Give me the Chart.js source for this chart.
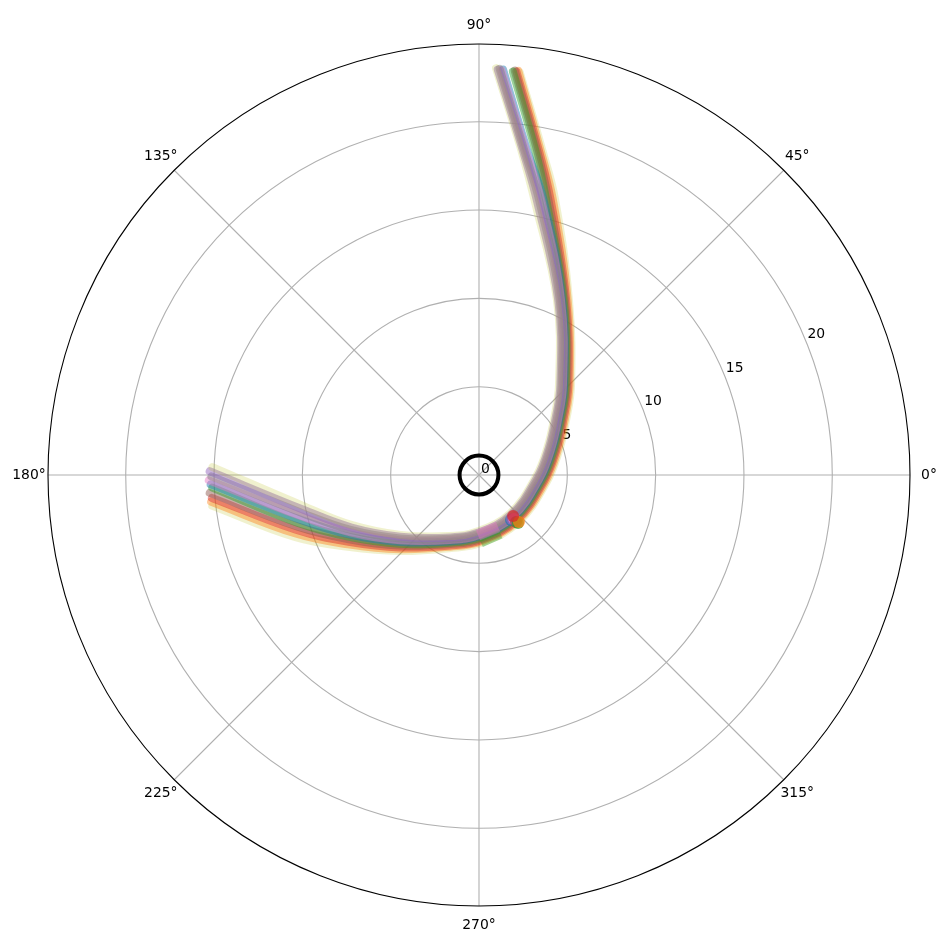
<!DOCTYPE html>
<html><head><meta charset="utf-8">
<script src="https://cdn.jsdelivr.net/npm/chart.js@4/dist/chart.umd.min.js"></script>
<style>html,body{margin:0;padding:0;background:#fff;}canvas{display:block;}</style>
</head><body>
<canvas id="c" width="950" height="950"></canvas>
<script>
// ---- axis data ----
const R_MAX = 24.4;
const radialTicks = [0, 5, 10, 15, 20];
const angleTicks = [0, 45, 90, 135, 180, 225, 270, 315];
const angleLabels = ['0°', '45°', '90°', '135°', '180°', '225°', '270°', '315°'];
const radialLabelAngle = 22.5;
const bodyRadius = [1.1];

// ---- trajectories (theta in degrees, r) ----
const traj0Theta = [178.3, 190.4, 201.6, 217.4, 244.2, 268.9, 308.7, 358.0, 21.4, 36.8, 48.4, 65.9, 78.4, 82.6, 87.6];
const traj0R     = [15.10, 9.99, 7.72, 5.59, 3.84, 3.19, 2.80, 3.22, 4.15, 5.31, 6.82, 10.82, 15.78, 18.56, 23.05];
const traj1Theta = [179.2, 191.3, 202.4, 218.1, 244.7, 269.3, 308.8, 357.5, 20.8, 36.2, 47.9, 65.6, 78.0, 82.35, 87.35];
const traj1R     = [15.25, 10.10, 7.80, 5.66, 3.91, 3.26, 2.88, 3.29, 4.21, 5.36, 6.87, 10.86, 15.83, 18.57, 22.98];
const traj2Theta = [180.3, 192.2, 203.2, 218.8, 245.2, 269.7, 308.9, 356.9, 20.2, 35.7, 47.5, 65.2, 77.6, 82.1, 87.1];
const traj2R     = [15.15, 10.22, 7.89, 5.73, 3.97, 3.33, 2.95, 3.36, 4.27, 5.42, 6.92, 10.90, 15.89, 18.58, 23.02];
const traj3Theta = [181.1, 193.1, 204.0, 219.5, 245.7, 270.1, 309.0, 356.4, 19.7, 35.1, 47.0, 64.9, 77.2, 81.85, 86.85];
const traj3R     = [15.30, 10.33, 7.97, 5.80, 4.04, 3.40, 3.03, 3.42, 4.33, 5.47, 6.97, 10.94, 15.94, 18.59, 22.95];
const traj4Theta = [182.0, 194.0, 204.8, 220.2, 246.2, 270.5, 309.1, 355.9, 19.1, 34.6, 46.6, 64.6, 76.8, 81.6, 86.6];
const traj4R     = [15.20, 10.44, 8.05, 5.87, 4.11, 3.47, 3.10, 3.49, 4.39, 5.52, 7.02, 10.98, 15.99, 18.60, 22.99];
const traj5Theta = [182.7, 195.0, 205.5, 220.9, 246.7, 271.0, 309.1, 355.3, 18.5, 34.0, 46.1, 64.2, 76.3, 80.2, 85.2];
const traj5R     = [15.12, 10.56, 8.14, 5.95, 4.17, 3.55, 3.18, 3.56, 4.46, 5.58, 7.08, 11.01, 16.05, 18.68, 22.92];
const traj6Theta = [183.8, 195.9, 206.3, 221.6, 247.2, 271.4, 309.2, 354.8, 17.9, 33.5, 45.7, 63.9, 75.9, 79.9, 84.95];
const traj6R     = [15.28, 10.67, 8.22, 6.02, 4.24, 3.62, 3.25, 3.63, 4.52, 5.63, 7.13, 11.05, 16.10, 18.70, 22.98];
const traj7Theta = [184.9, 196.8, 207.1, 222.3, 247.7, 271.8, 309.3, 354.3, 17.4, 32.9, 45.2, 63.6, 75.5, 79.6, 84.7];
const traj7R     = [15.18, 10.78, 8.30, 6.09, 4.31, 3.69, 3.33, 3.69, 4.58, 5.68, 7.18, 11.09, 16.15, 18.72, 22.94];
const traj8Theta = [185.7, 197.7, 207.9, 223.0, 248.2, 272.2, 309.4, 353.7, 16.8, 32.4, 44.8, 63.2, 75.1, 79.3, 84.45];
const traj8R     = [15.24, 10.90, 8.39, 6.16, 4.37, 3.76, 3.40, 3.76, 4.64, 5.74, 7.23, 11.13, 16.21, 18.73, 22.99];
const traj9Theta = [186.6, 198.6, 208.7, 223.7, 248.7, 272.6, 309.5, 353.2, 16.2, 31.8, 44.3, 62.9, 74.7, 79.0, 84.2];
const traj9R     = [15.20, 11.01, 8.47, 6.23, 4.44, 3.83, 3.48, 3.83, 4.70, 5.79, 7.28, 11.17, 16.26, 18.75, 22.90];

// ---- short overlapping segments near the joint ----
const jointInnerTheta = [269.0, 290.1];
const jointInnerR     = [3.40, 3.13];
const jointOuterTheta = [271.7, 290.1];
const jointOuterR     = [3.85, 3.57];

// ---- start markers ----
const markerTheta = [305.4, 306.9, 308.5, 308.2, 309.1, 310.4, 309.7];
const markerR     = [3.13, 3.11, 3.18, 3.39, 3.50, 3.49, 3.02];

// ---- styles ----
const trajColors = ['#bcbd22','#9467bd','#7f7f7f','#e377c2','#1f77b4','#2ca02c','#8c564b','#d62728','#ff7f0e','#bcbd22'];
const trajAlpha  = [0.22, 0.5, 0.5, 0.48, 0.48, 0.48, 0.48, 0.45, 0.42, 0.22];
const markerColors = ['#1f77b4','#9467bd','#e377c2','#8c564b','#2ca02c','#ff7f0e','#d62728'];
function rgba(hex, a){const n=parseInt(hex.slice(1),16);return `rgba(${n>>16&255},${n>>8&255},${n&255},${a})`;}

function toXY(thetaDeg, r){const a=thetaDeg*Math.PI/180;return {x:r*Math.cos(a), y:r*Math.sin(a)};}
function pairs(th, rr){return th.map((t,i)=>toXY(t, rr[i]));}

const trajTheta = [traj0Theta,traj1Theta,traj2Theta,traj3Theta,traj4Theta,traj5Theta,traj6Theta,traj7Theta,traj8Theta,traj9Theta];
const trajR = [traj0R,traj1R,traj2R,traj3R,traj4R,traj5R,traj6R,traj7R,traj8R,traj9R];

const datasets = [];
datasets.push({
  label:'body', data:[toXY(0,0)], showLine:false, order:0,
  pointRadius:(ctx)=>{const s=ctx.chart.scales.x;return s.getPixelForValue(bodyRadius[0])-s.getPixelForValue(0);},
  pointBorderWidth:4, pointBorderColor:'#000', pointBackgroundColor:'rgba(0,0,0,0)', pointHoverRadius:0
});
datasets.push({
  label:'start', data:pairs(markerTheta, markerR), showLine:false, order:1,
  pointRadius:6, pointBorderWidth:0,
  pointBackgroundColor:markerColors.map(c=>rgba(c,0.7))
});
datasets.push({
  label:'jointInner', data:pairs(jointInnerTheta, jointInnerR), showLine:true, order:2,
  borderColor:rgba('#e377c2',0.45), borderWidth:11, borderCapStyle:'butt', pointRadius:0
});
datasets.push({
  label:'jointOuter', data:pairs(jointOuterTheta, jointOuterR), showLine:true, order:3,
  borderColor:rgba('#2ca02c',0.4), borderWidth:9, borderCapStyle:'butt', pointRadius:0
});
trajTheta.forEach((th,k)=>{
  datasets.push({
    label:'traj'+k, data:pairs(th, trajR[k]), showLine:true, order:4+k,
    borderColor:rgba(trajColors[k],trajAlpha[k]), borderWidth:8, tension:0.4,
    borderCapStyle:'round', borderJoinStyle:'round', pointRadius:0, fill:false
  });
});

const polarGrid = {
  id:'polarGrid',
  beforeDatasetsDraw(chart){
    const ctx=chart.ctx, xs=chart.scales.x, ys=chart.scales.y;
    const cx=xs.getPixelForValue(0), cy=ys.getPixelForValue(0);
    const pr=(v)=>xs.getPixelForValue(v)-cx;
    ctx.save();
    ctx.strokeStyle='#b0b0b0'; ctx.lineWidth=1.1;
    radialTicks.forEach(t=>{ if(t<=0) return; ctx.beginPath(); ctx.arc(cx,cy,pr(t),0,Math.PI*2); ctx.stroke(); });
    angleTicks.forEach(a=>{ const rad=a*Math.PI/180; ctx.beginPath(); ctx.moveTo(cx,cy);
      ctx.lineTo(cx+pr(R_MAX)*Math.cos(rad), cy-pr(R_MAX)*Math.sin(rad)); ctx.stroke(); });
    ctx.strokeStyle='#000'; ctx.lineWidth=1.1;
    ctx.beginPath(); ctx.arc(cx,cy,pr(R_MAX),0,Math.PI*2); ctx.stroke();
    ctx.fillStyle='#000'; ctx.font='13.9px "DejaVu Sans"';
    ctx.textAlign='center'; ctx.textBaseline='middle';
    angleTicks.forEach((a,i)=>{ const rad=a*Math.PI/180; const rr=pr(R_MAX)+19;
      ctx.fillText(angleLabels[i], cx+rr*Math.cos(rad), cy-rr*Math.sin(rad)); });
    ctx.textAlign='left'; ctx.textBaseline='alphabetic';
    const lr=radialLabelAngle*Math.PI/180;
    radialTicks.forEach(t=>{ const rr=pr(t);
      ctx.fillText(String(t), cx+rr*Math.cos(lr)+2, cy-rr*Math.sin(lr)-2); });
    ctx.restore();
  }
};

new Chart(document.getElementById('c'), {
  type:'scatter',
  data:{datasets},
  options:{
    responsive:false, animation:false, devicePixelRatio:1, events:[],
    layout:{padding:{left:48,right:40,top:44,bottom:44}},
    scales:{
      x:{type:'linear',min:-R_MAX,max:R_MAX,display:false},
      y:{type:'linear',min:-R_MAX,max:R_MAX,display:false}
    },
    plugins:{legend:{display:false},tooltip:{enabled:false}}
  },
  plugins:[polarGrid]
});
</script>
</body></html>
